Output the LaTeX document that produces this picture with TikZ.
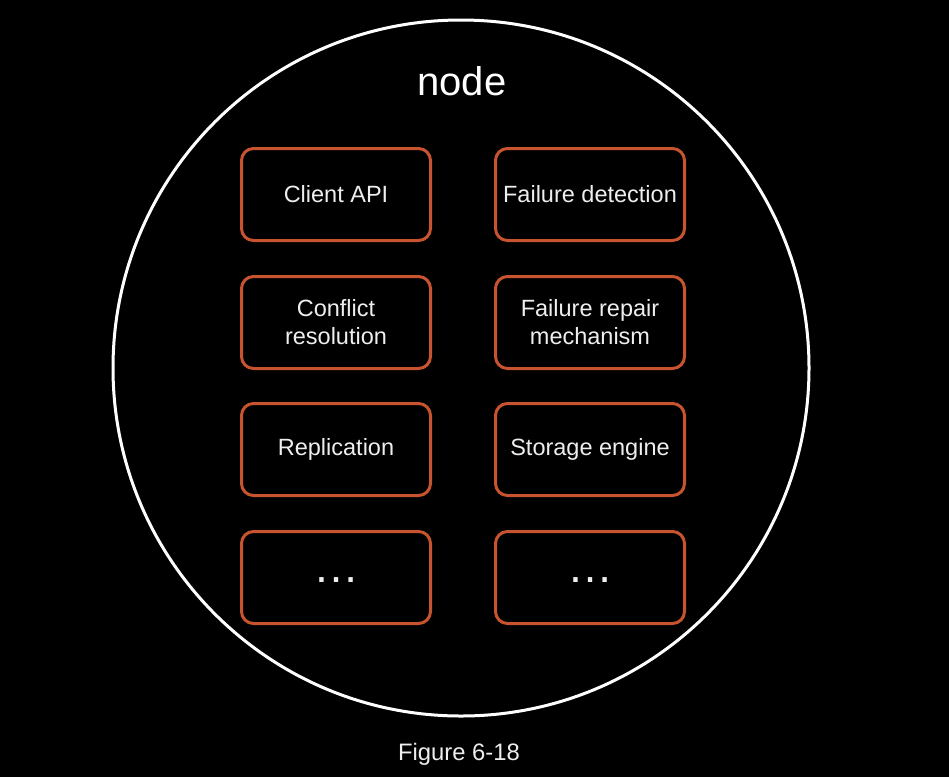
\documentclass[tikz,border=0pt]{standalone}
\usepackage{fontspec}
\setmainfont{Liberation Sans}
\definecolor{boxorange}{RGB}{199,84,46}
\definecolor{labelwhite}{RGB}{238,238,238}

\begin{document}
\begin{tikzpicture}[x=1pt, y=-1pt,
	part/.style={draw=boxorange, line width=3pt, rounded corners=12pt,
		minimum width=189pt, minimum height=92pt, inner sep=0pt,
		text=labelwhite, align=center, font=\fontsize{23.5}{28}\selectfont},
	dots/.style={text=labelwhite, inner sep=0pt, font=\fontsize{46}{50}\selectfont}]
	\fill[black] (0,0) rectangle (949,777);
	\draw[white, line width=3pt] (461,368) circle (348pt);
	\node[text=white, anchor=base, font=\fontsize{40}{44}\selectfont] (title) at (462,95) {node};
		\begin{scope}
		\node[part] (api) at (336,194.5) {Client API};
		\node[part] (conflict) at (336,322.5) {Conflict\\resolution};
		\node[part] (replication) at (336,449.5) {Replication};
		\node[part] (moreleft) at (336,577.5) {};
		\node[dots] at ([yshift=-3pt]moreleft.center) {…};
		\end{scope}
		\begin{scope}[shift = {(254,0)}]
		\node[part] (failure) at (336,194.5) {Failure detection};
		\node[part] (repair) at (336,322.5) {Failure repair\\mechanism};
		\node[part] (storage) at (336,449.5) {Storage engine};
		\node[part] (moreright) at (336,577.5) {};
		\node[dots] at ([yshift=-3pt]moreright.center) {…};
		\end{scope}
	\node[text=labelwhite, anchor=base, font=\fontsize{23.8}{26}\selectfont] (caption) at (459,760) {Figure 6-18};
\end{tikzpicture}
\end{document}
